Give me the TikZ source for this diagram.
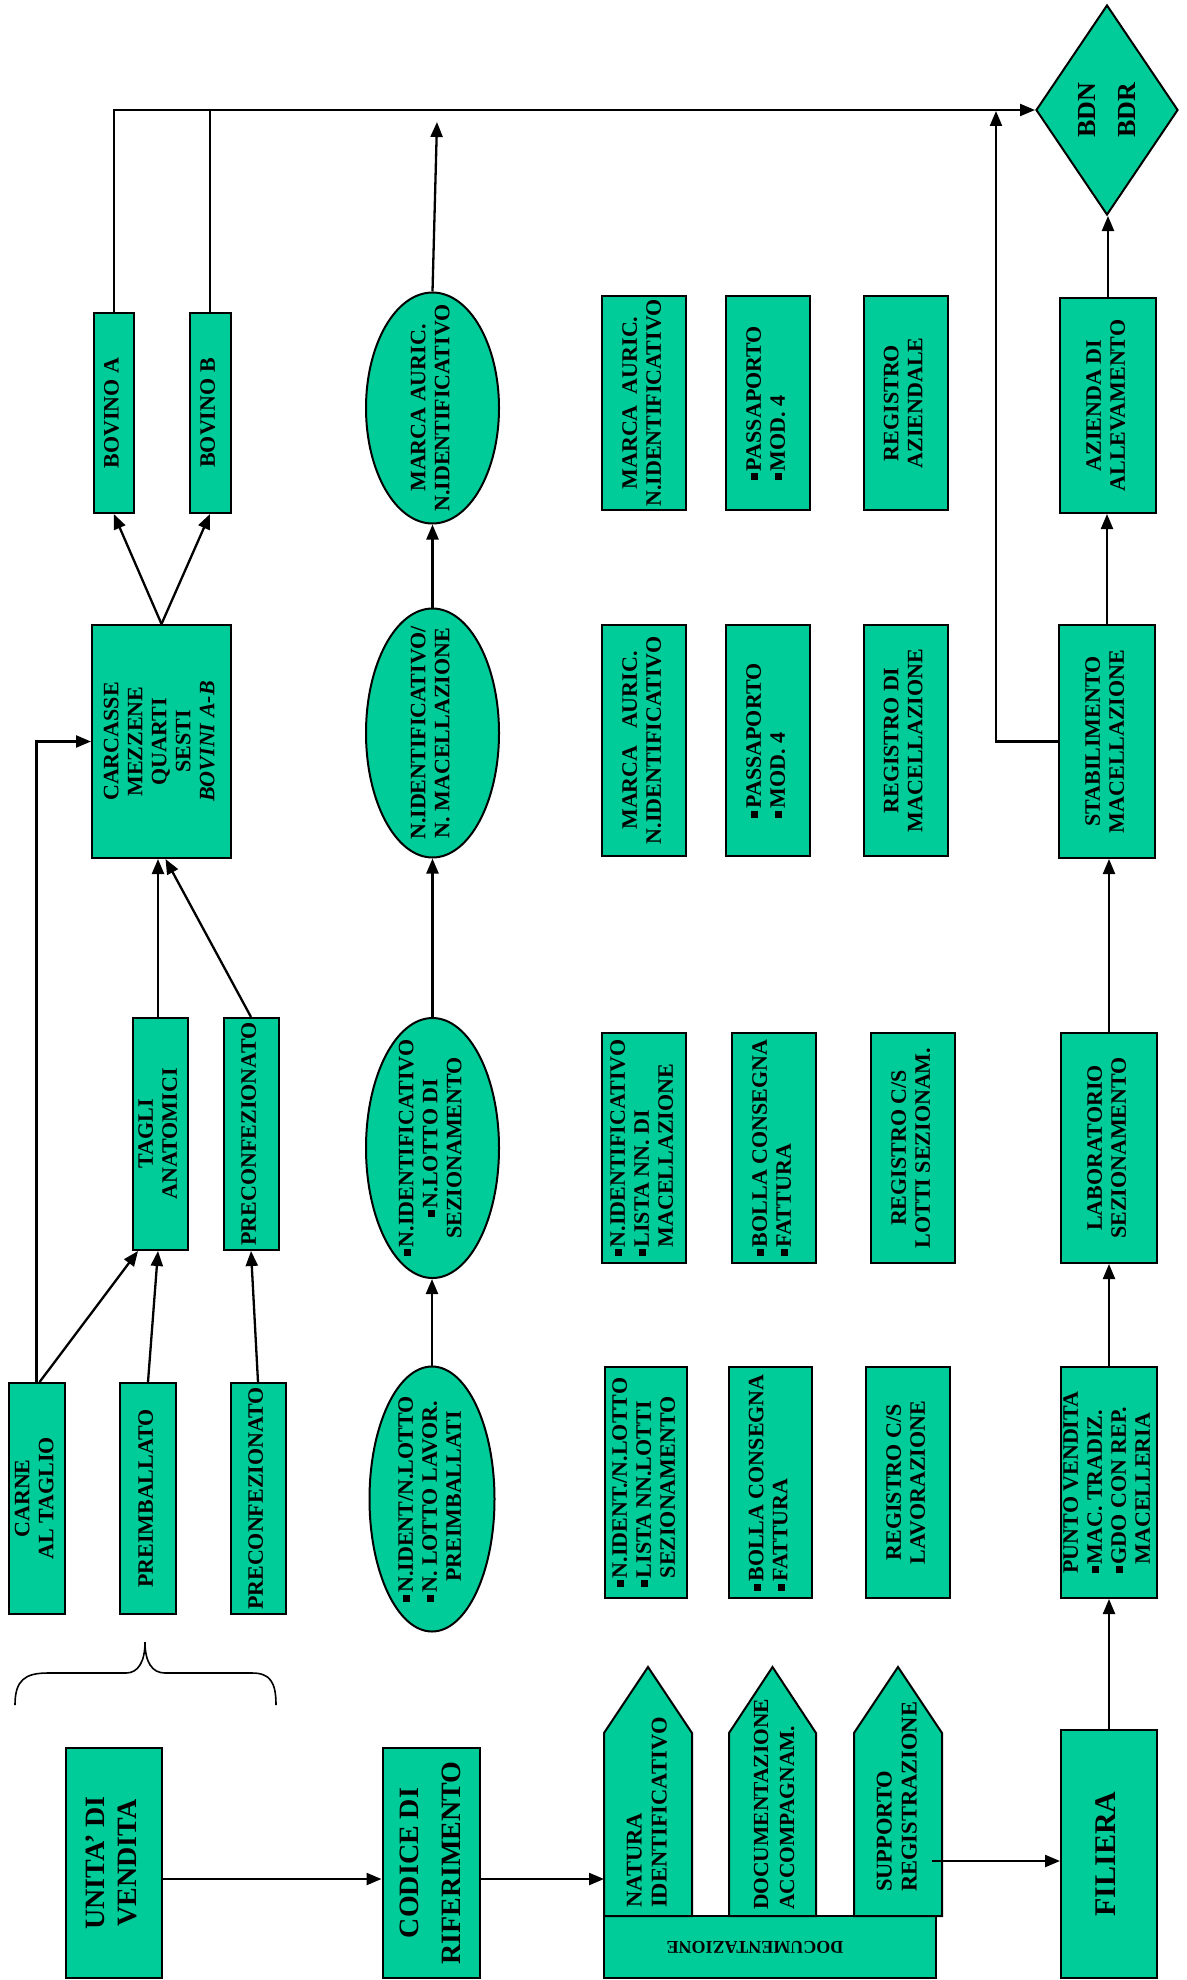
\documentclass[tikz,border=0pt]{standalone}
\usepackage{fontspec}
\setmainfont{Liberation Serif}
\usepackage{graphicx}
\usetikzlibrary{shapes.geometric,arrows.meta}
\definecolor{vg}{HTML}{00CC99}
\newcommand\sq{\rule[0.12em]{0.32em}{0.32em}\kern2pt}
\newcommand\hang{\phantom{\sq}}
\newcommand\vt[2][c]{\rotatebox{90}{\begin{tabular}{@{}#1@{}}#2\end{tabular}}}
\newcommand\fS{\bfseries\fontsize{22}{24}\selectfont}
\newcommand\fP{\bfseries\fontsize{22.5}{25}\selectfont}
\newcommand\fQ{\bfseries\fontsize{21.5}{26}\selectfont}
\newcommand\fU{\bfseries\fontsize{28}{32}\selectfont}
\newcommand\fF{\bfseries\fontsize{30}{34}\selectfont}
\newcommand\fC{\bfseries\fontsize{28}{42}\selectfont}
\newcommand\fD{\bfseries\fontsize{18}{20}\selectfont}
\newcommand\fB{\bfseries\fontsize{26}{40}\selectfont}
\tikzset{
  rbox/.style={draw=black,line width=2pt,fill=vg,inner sep=0pt,rectangle,font=\fS},
  ell/.style={draw=black,line width=2pt,fill=vg,inner sep=0pt,ellipse},
  shp/.style={draw=black,line width=2pt,fill=vg,line join=miter},
  lbl/.style={inner sep=0pt,font=\fS},
  conn/.style={line width=2.3pt,-{Triangle[length=15pt,width=12pt]}},
  wire/.style={line width=2.3pt},
}
\begin{document}
\begin{tikzpicture}[x=1pt,y=-1pt]
\useasboundingbox (0,0) rectangle (1186,1980);

% ---------- bottom band ----------
\node[rbox,font=\fU,minimum width=96,minimum height=230] (unita) at (114,1863) {\vt{UNITA’ DI\\VENDITA}};
\node[rbox,font=\fC,minimum width=97,minimum height=230] (codice) at (431,1863) {\vt{CODICE DI\\RIFERIMENTO}};
\node[rbox,font=\fD,minimum width=332,minimum height=62] (docbase) at (770,1947) {\rotatebox{180}{\hspace{30pt}DOCUMENTAZIONE}};
\draw[shp] (604,1916) -- (604,1733) -- (648,1667) -- (692,1733) -- (692,1916) -- cycle;
\draw[shp] (729,1916) -- (729,1733) -- (772.5,1667) -- (816,1733) -- (816,1916) -- cycle;
\draw[shp] (854,1916) -- (854,1733) -- (898,1667) -- (942,1733) -- (942,1916) -- cycle;
\node[lbl,font=\fP,anchor=south] (naturaT) at (649,1908) {\vt[l]{NATURA\\IDENTIFICATIVO}};
\node[lbl,font=\fQ,anchor=south] (docT) at (776,1910) {\vt[l]{DOCUMENTAZIONE\\ACCOMPAGNAM.}};
\node[lbl,font=\fP,anchor=south] (suppT) at (899,1892) {\vt[l]{SUPPORTO\\REGISTRAZIONE}};
\node[rbox,font=\fF,minimum width=96,minimum height=248] (filiera) at (1109,1854) {\vt{FILIERA}};
\coordinate (natIn) at (604,1879);
\coordinate (suppOut) at (932,1861);

% brace
\draw[line width=1.6pt] (15,1705) .. controls (15,1680) and (25,1673) .. (48,1673) -- (126,1673)
  .. controls (138,1673) and (145,1662) .. (145,1642)
  .. controls (145,1662) and (152,1673) .. (165,1673) -- (252,1673)
  .. controls (270,1673) and (276,1682) .. (276,1705);

% ---------- column 1 ----------
\node[rbox,minimum width=56,minimum height=231] (carne) at (36.6,1498.5) {\vt{CARNE\\AL TAGLIO}};
\node[rbox,minimum width=56,minimum height=231] (preimb) at (148,1498.5) {\vt{PREIMBALLATO}};
\node[rbox,minimum width=55,minimum height=231] (prec1) at (258,1498.5) {\vt{PRECONFEZIONATO}};
\node[rbox,minimum width=55,minimum height=232] (tagli) at (160,1134) {\vt{TAGLI\\ANATOMICI}};
\node[rbox,minimum width=55,minimum height=232] (prec2) at (251,1134) {\vt{PRECONFEZIONATO}};
\node[rbox,minimum width=139,minimum height=233] (carc) at (161.5,741.5) {\vt{CARCASSE\\MEZZENE\\QUARTI\\SESTI\\\textit{BOVINI A-B}}};
\node[rbox,minimum width=40,minimum height=200] (bovA) at (113.8,413) {\vt{BOVINO A}};
\node[rbox,minimum width=41,minimum height=200] (bovB) at (210,413) {\vt{BOVINO B}};

% ---------- column 2 (ellipses) ----------
\node[ell,minimum width=125,minimum height=265] (e1) at (432,1499) {};
\node[lbl] (e1t) at (e1) {\vt[l]{\sq N.IDENT/N.LOTTO\\\sq N. LOTTO LAVOR.\\\hspace{0.9em}PREIMBALLATI}};
\node[ell,minimum width=133,minimum height=260] (e2) at (432.5,1148) {};
\node[lbl] (e2t) at (e2) {\vt{\sq N.IDENTIFICATIVO\\\sq N.LOTTO DI\\SEZIONAMENTO}};
\node[ell,minimum width=133,minimum height=249] (e3) at (432.5,733) {};
\node[lbl] (e3t) at (e3) {\vt{N.IDENTIFICATIVO/\\N. MACELLAZIONE}};
\node[ell,minimum width=133,minimum height=231] (e4) at (432.5,408) {};
\node[lbl] (e4t) at (e4) {\vt{MARCA AURIC.\\N.IDENTIFICATIVO}};
\coordinate (e4Up) at (437,122);

% ---------- column 3 (documents) ----------
\node[rbox,minimum width=82,minimum height=231] (a1) at (646,1482.5) {\vt[l]{\sq N.IDENT./N.LOTTO\\\sq LISTA NN.LOTTI\\\hang SEZIONAMENTO}};
\node[rbox,minimum width=83,minimum height=231] (b1) at (770.5,1482.5) {\vt[l]{\sq BOLLA CONSEGNA\\\sq FATTURA}};
\node[rbox,minimum width=84,minimum height=231] (c1) at (908,1482.5) {\vt{REGISTRO C/S\\LAVORAZIONE}};
\node[rbox,minimum width=84,minimum height=230] (a2) at (644,1148) {\vt[l]{\sq N.IDENTIFICATIVO\\\sq LISTA NN. DI\\\hang MACELLAZIONE}};
\node[rbox,minimum width=84,minimum height=230] (b2) at (774,1148) {\vt[l]{\sq BOLLA CONSEGNA\\\sq FATTURA}};
\node[rbox,minimum width=84,minimum height=230] (c2) at (913,1148) {\vt{REGISTRO C/S\\LOTTI SEZIONAM.}};
\node[rbox,minimum width=84,minimum height=231] (a3) at (644,740.5) {\vt{MARCA\ \ \ AURIC.\\N.IDENTIFICATIVO}};
\node[rbox,minimum width=84,minimum height=231] (b3) at (768,740.5) {\vt[l]{\sq PASSAPORTO\\\sq MOD. 4}};
\node[rbox,minimum width=84,minimum height=231] (c3) at (905.5,740.5) {\vt{REGISTRO DI\\MACELLAZIONE}};
\node[rbox,minimum width=84,minimum height=214] (a4) at (644,403) {\vt{MARCA\ \ AURIC.\\N.IDENTIFICATIVO}};
\node[rbox,minimum width=84,minimum height=214] (b4) at (768,403) {\vt[l]{\sq PASSAPORTO\\\sq MOD. 4}};
\node[rbox,minimum width=84,minimum height=214] (c4) at (905.5,403) {\vt{REGISTRO\\AZIENDALE}};

% ---------- column 4 (chain) ----------
\node[rbox,minimum width=96,minimum height=231] (punto) at (1109,1482.5) {\vt[l]{PUNTO VENDITA\\\sq MAC. TRADIZ.\\\sq GDO CON REP.\\\hang MACELLERIA}};
\node[rbox,minimum width=96,minimum height=230] (lab) at (1109,1148) {\vt{LABORATORIO\\SEZIONAMENTO}};
\node[rbox,minimum width=96,minimum height=233] (stab) at (1107,741.5) {\vt{STABILIMENTO\\MACELLAZIONE}};
\node[rbox,minimum width=96,minimum height=215] (azienda) at (1108,405.5) {\vt{AZIENDA DI\\ALLEVAMENTO}};
\node[ell,diamond,minimum width=142,minimum height=210] (bdn) at (1107,110) {};
\node[lbl,font=\fB] (bdnt) at (bdn) {\vt{BDN\\BDR}};
\coordinate (stabUp) at (996,111);

% ---------- connectors ----------
\draw[conn] (unita.east |- natIn) -- (codice.west |- natIn);
\draw[conn] (codice.east |- natIn) -- (natIn);
\draw[conn] (suppOut) -- (suppOut -| filiera.west);
\draw[conn] (filiera.north) -- (punto.south);
\draw[conn] (punto.north) -- (lab.south);
\draw[conn] (lab.north) -- (lab.north |- stab.south);
\draw[conn] (stab.north) -- (stab.north |- azienda.south);
\draw[conn] (azienda.north) -- (azienda.north |- bdn.south);
\draw[conn] (stab.west) -| (stabUp);

\draw[conn] (e1.north) -- (e1.north |- e2.south);
\draw[conn] (e2.north) -- (e3.south);
\draw[conn] (e3.north) -- (e4.south);
\draw[conn] (e4.north) -- (e4Up);

\draw[conn] (carne.north) |- (carc.west);
\draw[conn] ([xshift=3pt]carne.north) -- ([xshift=-22pt]tagli.south);
\draw[conn] (preimb.north) -- ([xshift=-2pt]tagli.south);
\draw[conn] (prec1.north) -- (prec2.south);
\draw[conn] ([xshift=-2pt]tagli.north) -- ([xshift=-2pt]tagli.north |- carc.south);
\draw[conn] (prec2.north) -- ([xshift=4pt]carc.south);
\draw[conn] (carc.north) -- (bovA.south);
\draw[conn] (carc.north) -- (bovB.south);
\draw[conn] (bovA.north) |- (bdn.west);
\draw[wire] (bovB.north) -- (bovB.north |- bdn.west);
\end{tikzpicture}
\end{document}
